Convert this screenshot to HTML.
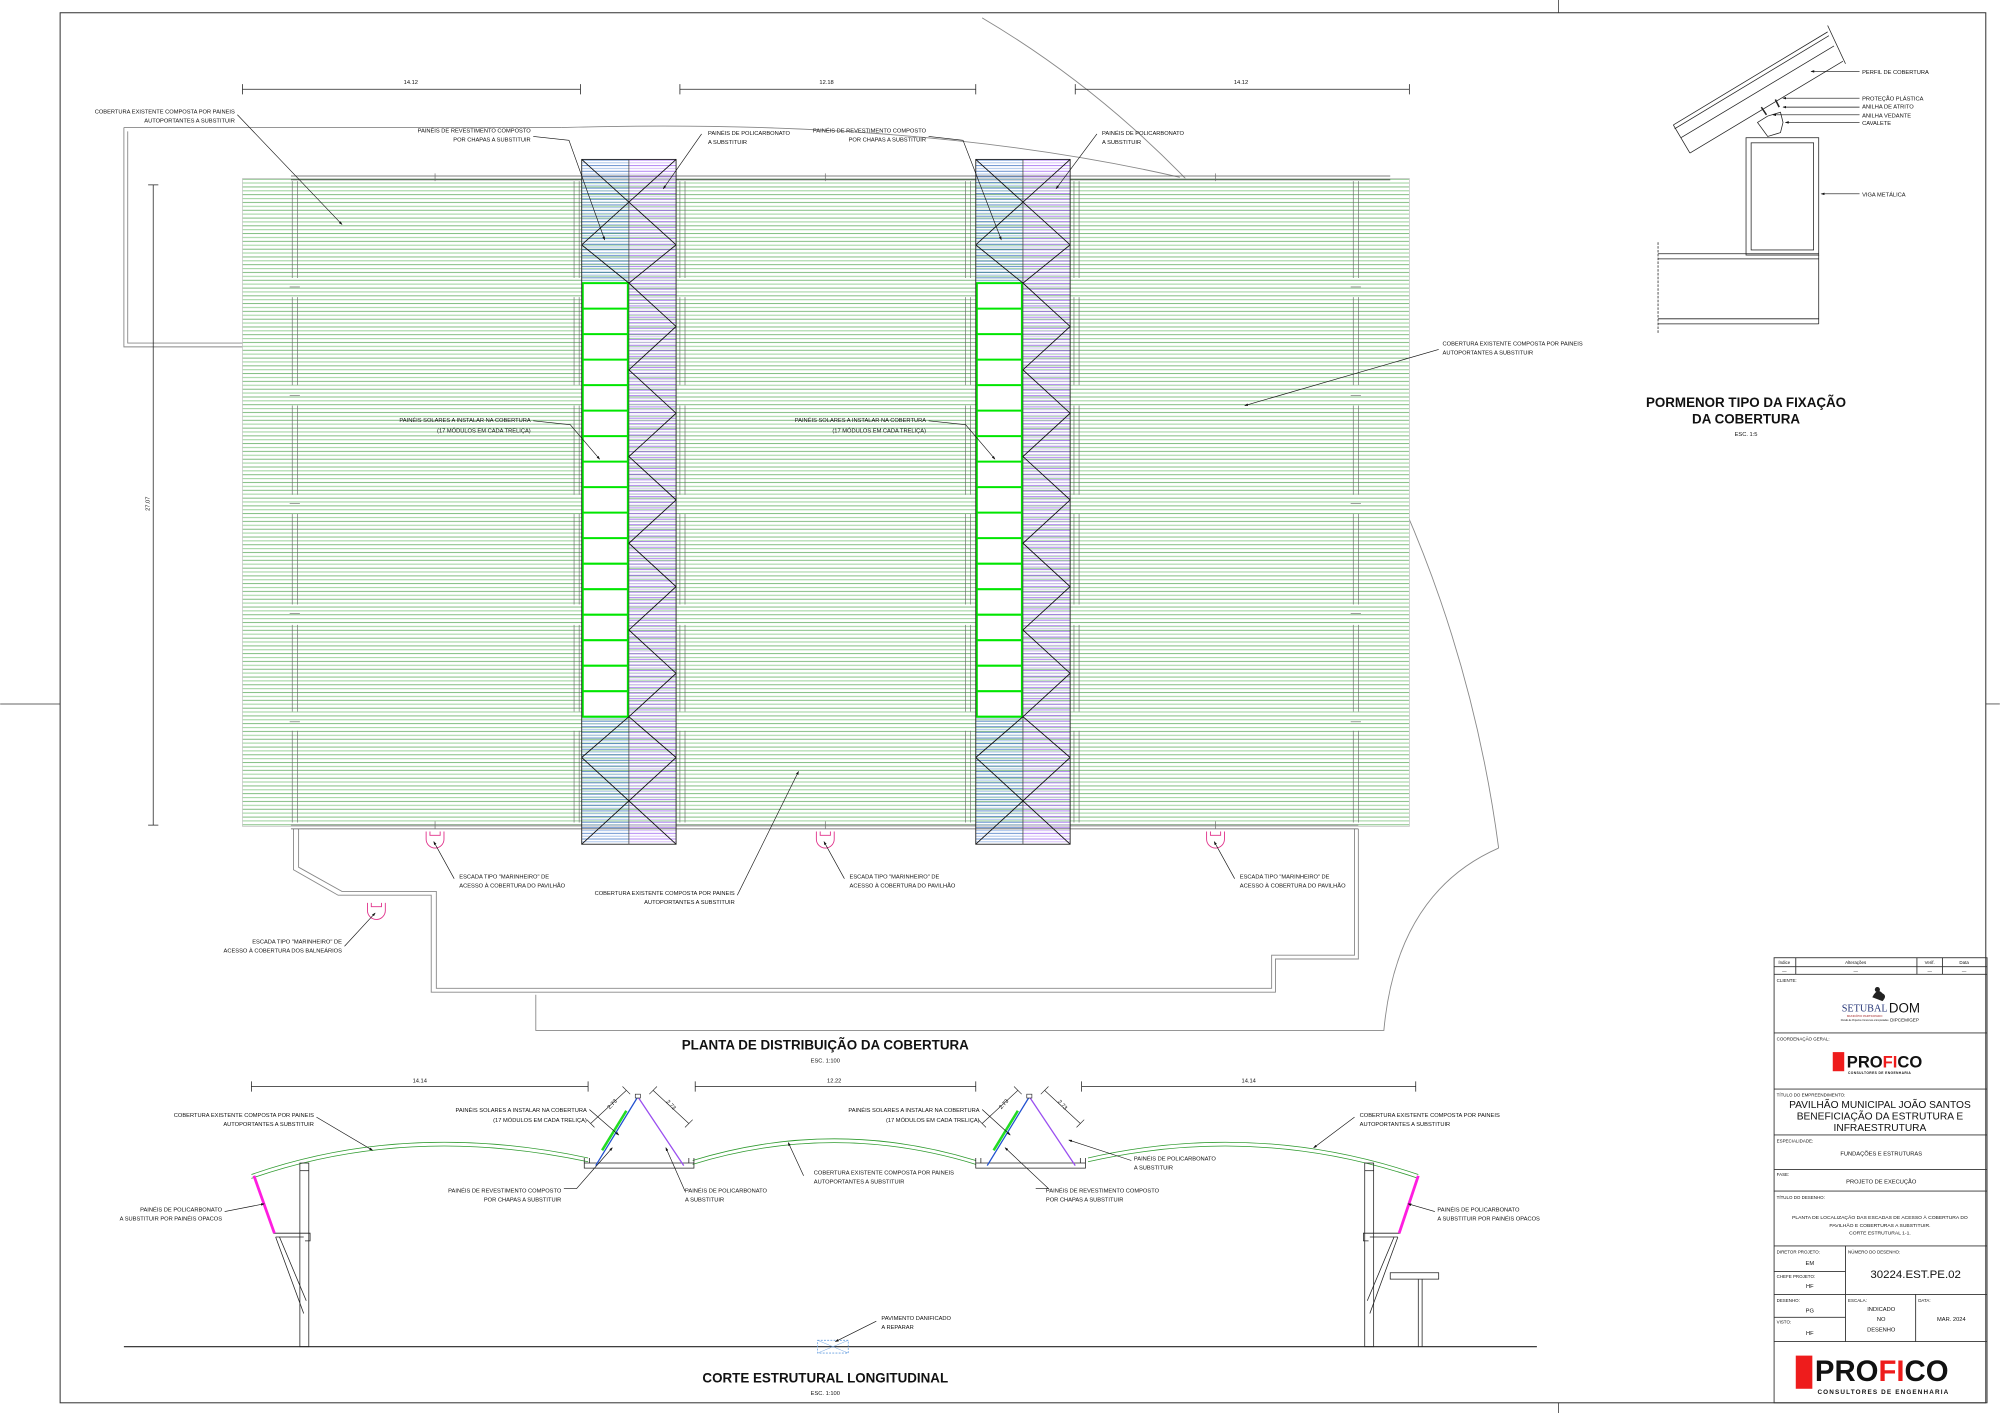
<!DOCTYPE html>
<html><head><meta charset="utf-8"><style>
html,body{margin:0;padding:0;background:#fff;}
svg{display:block;}
text{font-family:"Liberation Sans Narrow","Liberation Sans",sans-serif;fill:#111;}
.s{font-size:4.5px;}
.t{font-size:3.5px;}
</style></head><body>
<svg width="2000" height="1413" viewBox="0 0 1568 1108" xmlns="http://www.w3.org/2000/svg">
<defs>
<pattern id="gr" x="0" y="140" width="10" height="6.1" patternUnits="userSpaceOnUse">
<line x1="0" y1="0.5" x2="10" y2="0.5" stroke="#5aa85a" stroke-width="0.6"/>
<line x1="0" y1="3.5" x2="10" y2="3.5" stroke="#a8d8a8" stroke-width="0.9"/>
</pattern>
<pattern id="bl" x="0" y="125" width="10" height="4.4" patternUnits="userSpaceOnUse">
<line x1="0" y1="0.5" x2="10" y2="0.5" stroke="#3a6ec0" stroke-width="0.6"/>
<line x1="0" y1="2.7" x2="10" y2="2.7" stroke="#a0bce8" stroke-width="0.7"/>
</pattern>
<pattern id="pu" x="0" y="125" width="10" height="4.4" patternUnits="userSpaceOnUse">
<line x1="0" y1="0.5" x2="10" y2="0.5" stroke="#9a5ef0" stroke-width="0.6"/>
<line x1="0" y1="2.7" x2="10" y2="2.7" stroke="#d2b8f8" stroke-width="0.7"/>
</pattern>
<marker id="ar" markerWidth="6" markerHeight="4" refX="5" refY="2" orient="auto"><path d="M0,0 L6,2 L0,4z" fill="#111"/></marker>
</defs>

<rect x="47" y="10" width="1510" height="1090" fill="none" stroke="#333" stroke-width="0.8"/>
<line x1="1222" y1="0" x2="1222" y2="10" stroke="#333" stroke-width="0.6"/>
<line x1="1222" y1="1100" x2="1222" y2="1108" stroke="#333" stroke-width="0.6"/>
<line x1="0" y1="552" x2="47" y2="552" stroke="#333" stroke-width="0.6"/>
<line x1="1557" y1="552" x2="1568" y2="552" stroke="#333" stroke-width="0.6"/>

<g fill="none" stroke="#888" stroke-width="0.7">
<path d="M97,100 H440 M97,100 V272 H190 M100,103 V269 H190"/>
<path d="M440,100 Q720,92 925,139"/>
<path d="M770,14 C1000,150 1140,400 1175,665"/>
<path d="M1175,665 Q1095,700 1085,808 H420 V780"/>
<path d="M230,650 V682 L265,702 H338 V778 H1000 V752 H1065 V650 M234,650 V680 L268,699 H342 V775 H997 V749 H1062 V650"/>
</g>

<rect x="190" y="140" width="915" height="508" fill="#fff"/>
<rect x="190" y="140" width="915" height="508" fill="url(#gr)"/>
<rect x="190" y="140" width="915" height="508" fill="none" stroke="#bbb" stroke-width="0.5"/>
<g stroke="#555" stroke-width="0.6">
<line x1="228" y1="138" x2="1090" y2="138"/><line x1="228" y1="141" x2="1090" y2="141"/>
<line x1="228" y1="647" x2="1065" y2="647"/><line x1="228" y1="650" x2="1065" y2="650"/>
</g>
<g stroke="#666" stroke-width="0.5">
<path d="M229,142V218M233,142V218M229,233V302M233,233V302M229,318V388M233,318V388M229,403V474M233,403V474M229,490V558M233,490V558M229,573V645M233,573V645"/>
<path d="M450,142V218M454,142V218M450,233V302M454,233V302M450,318V388M454,318V388M450,403V474M454,403V474M450,490V558M454,490V558M450,573V645M454,573V645"/>
<path d="M533,142V218M537,142V218M533,233V302M537,233V302M533,318V388M537,318V388M533,403V474M537,403V474M533,490V558M537,490V558M533,573V645M537,573V645"/>
<path d="M757,142V218M761,142V218M757,233V302M761,233V302M757,318V388M761,318V388M757,403V474M761,403V474M757,490V558M761,490V558M757,573V645M761,573V645"/>
<path d="M842,142V218M846,142V218M842,233V302M846,233V302M842,318V388M846,318V388M842,403V474M846,403V474M842,490V558M846,490V558M842,573V645M846,573V645"/>
<path d="M1061,142V218M1065,142V218M1061,233V302M1065,233V302M1061,318V388M1065,318V388M1061,403V474M1065,403V474M1061,490V558M1065,490V558M1061,573V645M1065,573V645"/>
<path d="M227,225h8M227,310h8M227,395h8M227,481h8M227,566h8M1059,225h8M1059,310h8M1059,395h8M1059,481h8M1059,566h8M341,644v6M647,644v6M953,644v6M341,136v6M647,136v6M953,136v6"/>
</g>

<g id="tr1">
<rect x="456" y="125" width="37" height="537" fill="url(#bl)"/>
<rect x="493" y="125" width="37" height="537" fill="url(#pu)"/>
<rect x="456" y="222" width="37" height="340" fill="#fff"/>
<g fill="none" stroke="#00e600" stroke-width="1.6">
<path d="M456.8,222 V562 M492.2,222 V562 M456,222h37M456,242h37M456,262h37M456,282h37M456,302h37M456,322h37M456,342h37M456,362h37M456,382h37M456,402h37M456,422h37M456,442h37M456,462h37M456,482h37M456,502h37M456,522h37M456,542h37M456,562h37"/>
</g>
<rect x="456" y="125" width="74" height="537" fill="none" stroke="#222" stroke-width="0.7"/>
<line x1="493" y1="125" x2="493" y2="662" stroke="#444" stroke-width="0.6"/>
<path d="M456,125 L530,192 M530,125 L456,192 M456,192 L493,222 M530,192 L493,222 L530,256 L493,290 L530,324 L493,358 L530,392 L493,426 L530,460 L493,494 L530,528 L493,562 M493,562 L456,594 M493,562 L530,594 M456,594 L530,662 M530,594 L456,662" fill="none" stroke="#111" stroke-width="0.7"/>
</g>
<use href="#tr1" transform="translate(309,0)"/>

<g fill="none" stroke="#e0308a" stroke-width="0.7">
<path d="M334,652 v6 a7,7 0 0 0 14,0 v-6"/><path d="M337,652v3h8v-3"/>
<path d="M640,652 v6 a7,7 0 0 0 14,0 v-6"/><path d="M643,652v3h8v-3"/>
<path d="M946,652 v6 a7,7 0 0 0 14,0 v-6"/><path d="M949,652v3h8v-3"/>
<path d="M288,708 v6 a7,7 0 0 0 14,0 v-6"/><path d="M291,708v3h8v-3"/>
</g>

<g stroke="#222" stroke-width="0.6" fill="none">
<path d="M190,70H455M190,66v8M455,66v8M533,70H765M533,66v8M765,66v8M843,70H1105M843,66v8M1105,66v8"/>
<path d="M120,145V647M116,145h8M116,647h8"/>
</g>
<text class="s" x="322" y="66" text-anchor="middle">14.12</text>
<text class="s" x="648" y="66" text-anchor="middle">12.18</text>
<text class="s" x="973" y="66" text-anchor="middle">14.12</text>
<text class="s" transform="translate(117,395) rotate(-90)" text-anchor="middle">27.07</text>

<g stroke="#111" stroke-width="0.5" fill="none" marker-end="url(#ar)">
<path d="M186,90 L268,176"/>
<path d="M418,107 L446,110 L474,188"/>
<path d="M550,105 L520,148"/>
<path d="M728,107 L755,110 L785,188"/>
<path d="M860,105 L828,148"/>
<path d="M1128,274 L976,318"/>
<path d="M418,330 L447,333 L470,360"/>
<path d="M728,330 L757,333 L780,360"/>
<path d="M356,689 L340,660"/>
<path d="M662,689 L646,660"/>
<path d="M968,689 L952,660"/>
<path d="M270,742 L294,716"/>
<path d="M578,702 L626,605"/>
</g>
<g class="s">
<text x="184" y="89" text-anchor="end">COBERTURA EXISTENTE COMPOSTA POR PAINEIS</text>
<text x="184" y="96" text-anchor="end">AUTOPORTANTES A SUBSTITUIR</text>
<text x="416" y="104" text-anchor="end">PAINÉIS DE REVESTIMENTO COMPOSTO</text>
<text x="416" y="111" text-anchor="end">POR CHAPAS A SUBSTITUIR</text>
<text x="555" y="106">PAINÉIS DE POLICARBONATO</text>
<text x="555" y="113">A SUBSTITUIR</text>
<text x="726" y="104" text-anchor="end">PAINÉIS DE REVESTIMENTO COMPOSTO</text>
<text x="726" y="111" text-anchor="end">POR CHAPAS A SUBSTITUIR</text>
<text x="864" y="106">PAINÉIS DE POLICARBONATO</text>
<text x="864" y="113">A SUBSTITUIR</text>
<text x="1131" y="271">COBERTURA EXISTENTE COMPOSTA POR PAINEIS</text>
<text x="1131" y="278">AUTOPORTANTES A SUBSTITUIR</text>
<text x="416" y="331" text-anchor="end">PAINÉIS SOLARES A INSTALAR NA COBERTURA</text>
<text x="416" y="339" text-anchor="end">(17 MÓDULOS EM CADA TRELIÇA)</text>
<text x="726" y="331" text-anchor="end">PAINÉIS SOLARES A INSTALAR NA COBERTURA</text>
<text x="726" y="339" text-anchor="end">(17 MÓDULOS EM CADA TRELIÇA)</text>
<text x="360" y="689">ESCADA TIPO "MARINHEIRO" DE</text>
<text x="360" y="696">ACESSO À COBERTURA DO PAVILHÃO</text>
<text x="666" y="689">ESCADA TIPO "MARINHEIRO" DE</text>
<text x="666" y="696">ACESSO À COBERTURA DO PAVILHÃO</text>
<text x="972" y="689">ESCADA TIPO "MARINHEIRO" DE</text>
<text x="972" y="696">ACESSO À COBERTURA DO PAVILHÃO</text>
<text x="576" y="702" text-anchor="end">COBERTURA EXISTENTE COMPOSTA POR PAINEIS</text>
<text x="576" y="709" text-anchor="end">AUTOPORTANTES A SUBSTITUIR</text>
<text x="268" y="740" text-anchor="end">ESCADA TIPO "MARINHEIRO" DE</text>
<text x="268" y="747" text-anchor="end">ACESSO À COBERTURA DOS BALNEÁRIOS</text>
</g>
<text x="647" y="823" text-anchor="middle" style="font-size:10.5px;font-weight:bold;font-family:'Liberation Sans',sans-serif">PLANTA DE DISTRIBUIÇÃO DA COBERTURA</text>
<text class="s" x="647" y="833" text-anchor="middle">ESC. 1:100</text>

<g fill="none" stroke="#222" stroke-width="0.6">
<path d="M1312,98 L1433,25 M1313,101 L1434,28 M1318,108 L1438,36 M1325,120 L1445,48 M1312,98 L1325,120 M1433,20 L1447,50" />
<path d="M1378,96 l8,-5 l10,-3 l2,8 l-2,8 l-10,3 z"/>
<path d="M1385,90 l-4,-6 M1395,84 l-3,-6" stroke-width="1.2"/>
<rect x="1369" y="108" width="57" height="92"/>
<rect x="1373" y="112" width="49" height="84"/>
<path d="M1300,199 H1426 M1300,203 H1426 M1300,250 H1426 M1300,254 H1426 M1426,200 V254"/>
<path d="M1300,190 V262" stroke-dasharray="2,1"/>
</g>
<g stroke="#111" stroke-width="0.5" fill="none" marker-end="url(#ar)">
<path d="M1458,56 H1420"/><path d="M1458,77 H1398"/><path d="M1458,84 H1398"/><path d="M1458,90 H1390"/><path d="M1458,96 H1400"/><path d="M1458,152 H1428"/>
</g>
<g class="s">
<text x="1460" y="58">PERFIL DE COBERTURA</text>
<text x="1460" y="79">PROTEÇÃO PLÁSTICA</text>
<text x="1460" y="85">ANILHA DE ATRITO</text>
<text x="1460" y="92">ANILHA VEDANTE</text>
<text x="1460" y="98">CAVALETE</text>
<text x="1460" y="154">VIGA METÁLICA</text>
</g>
<text x="1369" y="319" text-anchor="middle" style="font-size:10.5px;font-weight:bold;font-family:'Liberation Sans',sans-serif">PORMENOR TIPO DA FIXAÇÃO</text>
<text x="1369" y="332" text-anchor="middle" style="font-size:10.5px;font-weight:bold;font-family:'Liberation Sans',sans-serif">DA COBERTURA</text>
<text class="s" x="1369" y="342" text-anchor="middle">ESC. 1:5</text>

<g stroke="#222" stroke-width="0.6" fill="none">
<path d="M197,852H461M197,848v8M461,848v8M545,852H765M545,848v8M765,848v8M848,852H1110M848,848v8M1110,848v8"/>
<path d="M97,1056H1205" stroke-width="0.9"/>
</g>
<text class="s" x="329" y="849" text-anchor="middle">14.14</text>
<text class="s" x="654" y="849" text-anchor="middle">12.22</text>
<text class="s" x="979" y="849" text-anchor="middle">14.14</text>
<g fill="none" stroke="#2e9a2e" stroke-width="0.6">
<path d="M197,921 Q320,878 461,908"/><path d="M197,924 Q320,881 461,911"/>
<path d="M543,910 Q654,876 765,910"/><path d="M543,913 Q654,879 765,913"/>
<path d="M853,908 Q985,878 1112,921"/><path d="M853,911 Q985,881 1112,924"/>
</g>
<g id="ts">
<path d="M458,908 v8 h86 v-8 M458,912 h86 M462,908 v4 M540,908 v4" fill="none" stroke="#222" stroke-width="0.6"/>
<line x1="467" y1="914" x2="500" y2="860" stroke="#2050d0" stroke-width="1"/>
<line x1="472" y1="902" x2="491" y2="871" stroke="#22dd22" stroke-width="2"/>
<line x1="500" y1="860" x2="536" y2="914" stroke="#9a4ef0" stroke-width="1"/>
<rect x="498" y="858" width="4" height="3" fill="#fff" stroke="#222" stroke-width="0.5"/>
<g stroke="#222" stroke-width="0.5" fill="none">
<path d="M463,881 L491,855 M460,878l6,6M488,852l6,6M512,855 L540,881 M509,858l6,-6M537,884l6,-6"/>
</g>
</g>
<use href="#ts" transform="translate(307,0)"/>
<text class="s" transform="translate(478,870) rotate(-48)">2.73</text>
<text class="s" transform="translate(522,864) rotate(48)">2.73</text>
<text class="s" transform="translate(785,870) rotate(-48)">2.73</text>
<text class="s" transform="translate(829,864) rotate(48)">2.73</text>
<g fill="none" stroke="#222" stroke-width="0.6">
<rect x="235" y="912" width="7" height="144"/><path d="M235,918h7"/>
<path d="M214,967 H243 V973 H239 M216,970 H238 M216,970 L238,1030 M219,970 L240,1020"/>
<rect x="1070" y="912" width="7" height="144"/><path d="M1070,918h7"/>
<path d="M1098,967 H1069 V973 H1073 M1096,970 H1074 M1096,970 L1074,1030 M1093,970 L1072,1020"/>
<path d="M1090,998H1128V1003H1090zM1112,1003V1056M1115,1003V1056"/>
</g>
<line x1="199" y1="922" x2="215" y2="967" stroke="#ff1ee0" stroke-width="2.2"/>
<line x1="1112" y1="922" x2="1097" y2="967" stroke="#ff1ee0" stroke-width="2.2"/>
<rect x="641" y="1051" width="24" height="10" fill="none" stroke="#6aa0e0" stroke-width="0.6" stroke-dasharray="1.5,1"/>
<path d="M641,1051 L665,1061 M665,1051 L641,1061" stroke="#6aa0e0" stroke-width="0.4"/>
<g stroke="#111" stroke-width="0.5" fill="none" marker-end="url(#ar)">
<path d="M248,876 L292,902"/>
<path d="M462,870 L485,890"/>
<path d="M442,932 L452,932 L480,900"/>
<path d="M537,934 L522,900"/>
<path d="M630,922 L618,896"/>
<path d="M770,870 L792,890"/>
<path d="M812,932 L822,932 L788,900"/>
<path d="M887,910 L838,894"/>
<path d="M1062,876 L1030,900"/>
<path d="M176,950 L207,944"/>
<path d="M1125,950 L1104,944"/>
<path d="M687,1036 L655,1052"/>
</g>
<g class="s">
<text x="246" y="876" text-anchor="end">COBERTURA EXISTENTE COMPOSTA POR PAINEIS</text>
<text x="246" y="883" text-anchor="end">AUTOPORTANTES A SUBSTITUIR</text>
<text x="460" y="872" text-anchor="end">PAINÉIS SOLARES A INSTALAR NA COBERTURA</text>
<text x="460" y="880" text-anchor="end">(17 MÓDULOS EM CADA TRELIÇA)</text>
<text x="440" y="935" text-anchor="end">PAINÉIS DE REVESTIMENTO COMPOSTO</text>
<text x="440" y="942" text-anchor="end">POR CHAPAS A SUBSTITUIR</text>
<text x="537" y="935">PAINÉIS DE POLICARBONATO</text>
<text x="537" y="942">A SUBSTITUIR</text>
<text x="638" y="921">COBERTURA EXISTENTE COMPOSTA POR PAINEIS</text>
<text x="638" y="928">AUTOPORTANTES A SUBSTITUIR</text>
<text x="768" y="872" text-anchor="end">PAINÉIS SOLARES A INSTALAR NA COBERTURA</text>
<text x="768" y="880" text-anchor="end">(17 MÓDULOS EM CADA TRELIÇA)</text>
<text x="820" y="935">PAINÉIS DE REVESTIMENTO COMPOSTO</text>
<text x="820" y="942">POR CHAPAS A SUBSTITUIR</text>
<text x="889" y="910">PAINÉIS DE POLICARBONATO</text>
<text x="889" y="917">A SUBSTITUIR</text>
<text x="1066" y="876">COBERTURA EXISTENTE COMPOSTA POR PAINEIS</text>
<text x="1066" y="883">AUTOPORTANTES A SUBSTITUIR</text>
<text x="174" y="950" text-anchor="end">PAINÉIS DE POLICARBONATO</text>
<text x="174" y="957" text-anchor="end">A SUBSTITUIR POR PAINÉIS OPACOS</text>
<text x="1127" y="950">PAINÉIS DE POLICARBONATO</text>
<text x="1127" y="957">A SUBSTITUIR POR PAINÉIS OPACOS</text>
<text x="691" y="1035">PAVIMENTO DANIFICADO</text>
<text x="691" y="1042">A REPARAR</text>
</g>
<text x="647" y="1084" text-anchor="middle" style="font-size:10.5px;font-weight:bold;font-family:'Liberation Sans',sans-serif">CORTE ESTRUTURAL LONGITUDINAL</text>
<text class="s" x="647" y="1094" text-anchor="middle">ESC. 1:100</text>

<g fill="none" stroke="#333" stroke-width="0.7">
<rect x="1391" y="751" width="167" height="349"/>
<path d="M1391,758H1558M1391,764H1558M1391,810H1558M1391,854H1558M1391,890H1558M1391,917H1558M1391,934H1558M1391,977H1558M1391,997H1447M1391,1015H1558M1391,1033H1447M1391,1052H1558"/>
<path d="M1408,751V764M1503,751V764M1523,751V764M1447,977V1052M1502,1015V1052"/>
</g>
<g class="t">
<text x="1399" y="756" text-anchor="middle">Índice</text><text x="1455" y="756" text-anchor="middle">Alterações</text><text x="1513" y="756" text-anchor="middle">Verif.</text><text x="1540" y="756" text-anchor="middle">Data</text>
<text x="1399" y="763" text-anchor="middle">—</text><text x="1455" y="763" text-anchor="middle">—</text><text x="1513" y="763" text-anchor="middle">—</text><text x="1540" y="763" text-anchor="middle">—</text>
<text x="1393" y="770">CLIENTE:</text>
<text x="1393" y="816">COORDENAÇÃO GERAL:</text>
<text x="1393" y="860">TÍTULO DO EMPREENDIMENTO:</text>
<text x="1393" y="896">ESPECIALIDADE:</text>
<text x="1393" y="922">FASE:</text>
<text x="1393" y="940">TÍTULO DO DESENHO:</text>
<text x="1393" y="983">DIRETOR PROJETO:</text>
<text x="1393" y="1002">CHEFE PROJETO:</text>
<text x="1393" y="1021">DESENHO:</text>
<text x="1393" y="1038">VISTO:</text>
<text x="1449" y="983">NÚMERO DO DESENHO:</text>
<text x="1449" y="1021">ESCALA:</text>
<text x="1504" y="1021">DATA:</text>
</g>
<g class="s" text-anchor="middle">
<text x="1475" y="906">FUNDAÇÕES E ESTRUTURAS</text>
<text x="1475" y="928">PROJETO DE EXECUÇÃO</text>
</g>
<g text-anchor="middle" style="font-size:3.9px">
<text x="1474" y="956">PLANTA DE LOCALIZAÇÃO DAS ESCADAS DE ACESSO À COBERTURA DO</text>
<text x="1474" y="962">PAVILHÃO E COBERTURAS A SUBSTITUIR.</text>
<text x="1474" y="968">CORTE ESTRUTURAL 1-1.</text>
</g>
<g class="s" text-anchor="middle">
<text x="1419" y="992">EM</text><text x="1419" y="1010">HF</text>
<text x="1419" y="1029">PG</text><text x="1419" y="1047">HF</text>
<text x="1475" y="1028">INDICADO</text><text x="1475" y="1036">NO</text><text x="1475" y="1044">DESENHO</text>
<text x="1530" y="1036">MAR. 2024</text>
</g>
<text x="1502" y="1002" text-anchor="middle" style="font-size:9px">30224.EST.PE.02</text>
<g text-anchor="middle" style="font-family:'Liberation Sans',sans-serif;font-size:8px">
<text x="1474" y="869">PAVILHÃO MUNICIPAL JOÃO SANTOS</text>
<text x="1474" y="878">BENEFICIAÇÃO DA ESTRUTURA E</text>
<text x="1474" y="887">INFRAESTRUTURA</text>
</g>
<path d="M1468,782 q4,-8 8,-3 q4,2 0,6 z" fill="#222"/>
<circle cx="1472" cy="776" r="2" fill="#222"/>
<text x="1462" y="793" text-anchor="middle" style="font-family:'Liberation Serif',serif;font-size:8px;fill:#2a3a7a">SETUBAL</text>
<text x="1462" y="797.5" text-anchor="middle" style="font-size:2.3px;fill:#a02020">MUNICÍPIO PARTICIPADO</text>
<text x="1462" y="800.5" text-anchor="middle" style="font-size:1.8px">Divisão de Projectos Concursos e Empreitadas</text>
<text x="1481" y="794" style="font-family:'Liberation Sans',sans-serif;font-size:10.5px">DOM</text>
<text x="1482" y="801" style="font-size:3.6px">DIPCEM/GEP</text>
<rect x="1437" y="825" width="9" height="15" fill="#ee1c1c"/>
<text x="1448" y="837" style="font-family:'Liberation Sans',sans-serif;font-weight:bold;font-size:13px">PRO<tspan fill="#ee1c1c">FI</tspan>CO</text>
<text x="1449" y="842" style="font-family:'Liberation Sans',sans-serif;font-weight:bold;font-size:2.6px;letter-spacing:0.3px">CONSULTORES DE ENGENHARIA</text>
<rect x="1408" y="1063" width="13" height="26" fill="#ee1c1c"/>
<text x="1423" y="1083" style="font-family:'Liberation Sans',sans-serif;font-weight:bold;font-size:23px">PRO<tspan fill="#ee1c1c">FI</tspan>CO</text>
<text x="1425" y="1093" style="font-family:'Liberation Sans',sans-serif;font-weight:bold;font-size:5px;letter-spacing:0.9px">CONSULTORES DE ENGENHARIA</text>
</svg>
</body></html>
